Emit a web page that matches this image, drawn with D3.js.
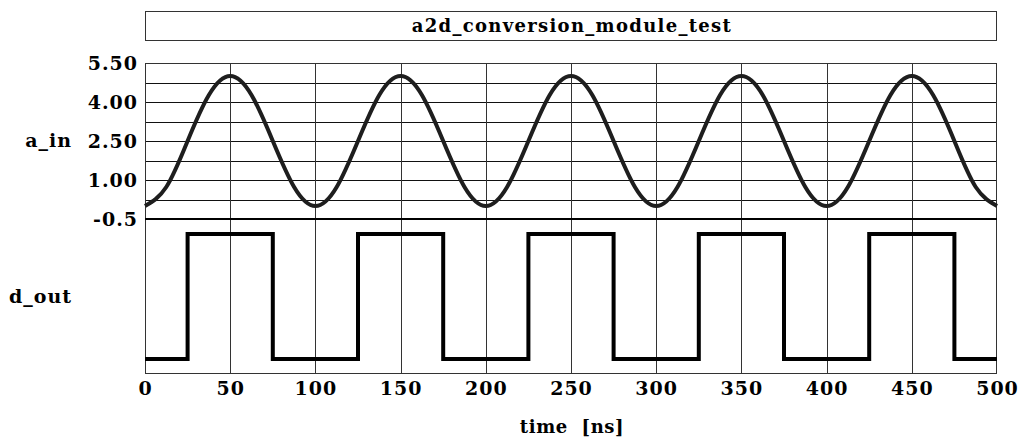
<!DOCTYPE html>
<html><head><meta charset="utf-8">
<script src="https://cdn.jsdelivr.net/npm/d3@7"></script>
<style>body{margin:0;background:#fff}svg{display:block}</style>
</head><body><svg id="c" width="1020" height="437"></svg>
<script>
const title = "a2d_conversion_module_test";
const xLabel = "time  [ns]";
const xTicks = [0,50,100,150,200,250,300,350,400,450,500];
const aTicks = [-0.5,1.0,2.5,4.0,5.5];
const aTickLabels = ["-0.5","1.00","2.50","4.00","5.50"];
const aGrid = [-0.5,0.25,1.0,1.75,2.5,3.25,4.0,4.75,5.5];
// a_in samples every 12.5 ns
const aTime = d3.range(0, 500.1, 12.5);
const aValues = [0,0.73,2.5,4.27,5,4.27,2.5,0.73,
                 0,0.73,2.5,4.27,5,4.27,2.5,0.73,
                 0,0.73,2.5,4.27,5,4.27,2.5,0.73,
                 0,0.73,2.5,4.27,5,4.27,2.5,0.73,
                 0,0.73,2.5,4.27,5,4.27,2.5,0.73,0];
// d_out step changes
const dTime = [0,25,75,125,175,225,275,325,375,425,475,500];
const dValues = [0,1,0,1,0,1,0,1,0,1,0,0];

const svg = d3.select("#c");
const L=145, R=997, T1=63, B1=219, B2=374;
const x = d3.scaleLinear().domain([0,500]).range([L,R]);
const ya = d3.scaleLinear().domain([-0.5,5.5]).range([B1,T1]);
const yd = d3.scaleLinear().domain([-0.12,1.12]).range([B2,B1]);

function txt(sel, size, ls){
  return sel.style("font-family",'"DejaVu Serif", serif').style("font-weight","bold")
    .style("font-size",size+"px").style("letter-spacing",ls+"px").attr("fill","#000");
}

// title box
svg.append("rect").attr("x",L+0.5).attr("y",11.5).attr("width",R-L-1).attr("height",29)
  .attr("fill","none").attr("stroke","#333").attr("stroke-width",1);
txt(svg.append("text").attr("x",(L+R)/2+1).attr("y",32).attr("text-anchor","middle"),18,1.3).text(title);

// horizontal grid in a_in panel
svg.append("g").selectAll("line").data(aGrid).join("line")
  .attr("x1",L).attr("x2",R).attr("y1",d=>Math.round(ya(d))+0.5).attr("y2",d=>Math.round(ya(d))+0.5)
  .attr("stroke","#111").attr("stroke-width",1);
// vertical grid
svg.append("g").selectAll("line").data(xTicks.slice(1,-1)).join("line")
  .attr("x1",d=>Math.round(x(d))+0.5).attr("x2",d=>Math.round(x(d))+0.5).attr("y1",T1).attr("y2",B2)
  .attr("stroke","#333").attr("stroke-width",1);
// panel borders
svg.append("rect").attr("x",L+0.5).attr("y",T1+0.5).attr("width",R-L-1).attr("height",B2-T1-1)
  .attr("fill","none").attr("stroke","#333").attr("stroke-width",1);
svg.append("line").attr("x1",L).attr("x2",R).attr("y1",B1).attr("y2",B1).attr("stroke","#000").attr("stroke-width",2);

// a_in curve
const aLine = d3.line().x((d,i)=>x(aTime[i])).y(d=>ya(d)).curve(d3.curveNatural);
svg.append("path").datum(aValues).attr("d",aLine).attr("fill","none")
  .attr("stroke","#1e1e1e").attr("stroke-width",4);

// d_out
const dLine = d3.line().x((d,i)=>x(dTime[i])).y(d=>yd(d)).curve(d3.curveStepAfter);
svg.append("path").datum(dValues).attr("d",dLine).attr("fill","none")
  .attr("stroke","#000").attr("stroke-width",4);

// y tick labels
txt(svg.append("g").selectAll("text").data(aTicks).join("text")
  .attr("x",138).attr("y",d=>ya(d)+7).attr("text-anchor","end"),19,1)
  .text((d,i)=>aTickLabels[i]);
// panel labels
txt(svg.append("text").attr("x",72).attr("y",147).attr("text-anchor","end"),19,1).text("a_in");
txt(svg.append("text").attr("x",72).attr("y",303).attr("text-anchor","end"),19,1).text("d_out");

// x axis labels
txt(svg.append("g").selectAll("text").data(xTicks).join("text")
  .attr("x",d=>x(d)+0.5).attr("y",395).attr("text-anchor","middle"),19,1).text(d=>d);
txt(svg.append("text").attr("x",572).attr("y",433).attr("text-anchor","middle"),18,0.6)
  .attr("xml:space","preserve").style("white-space","pre").text(xLabel);
</script></body></html>
